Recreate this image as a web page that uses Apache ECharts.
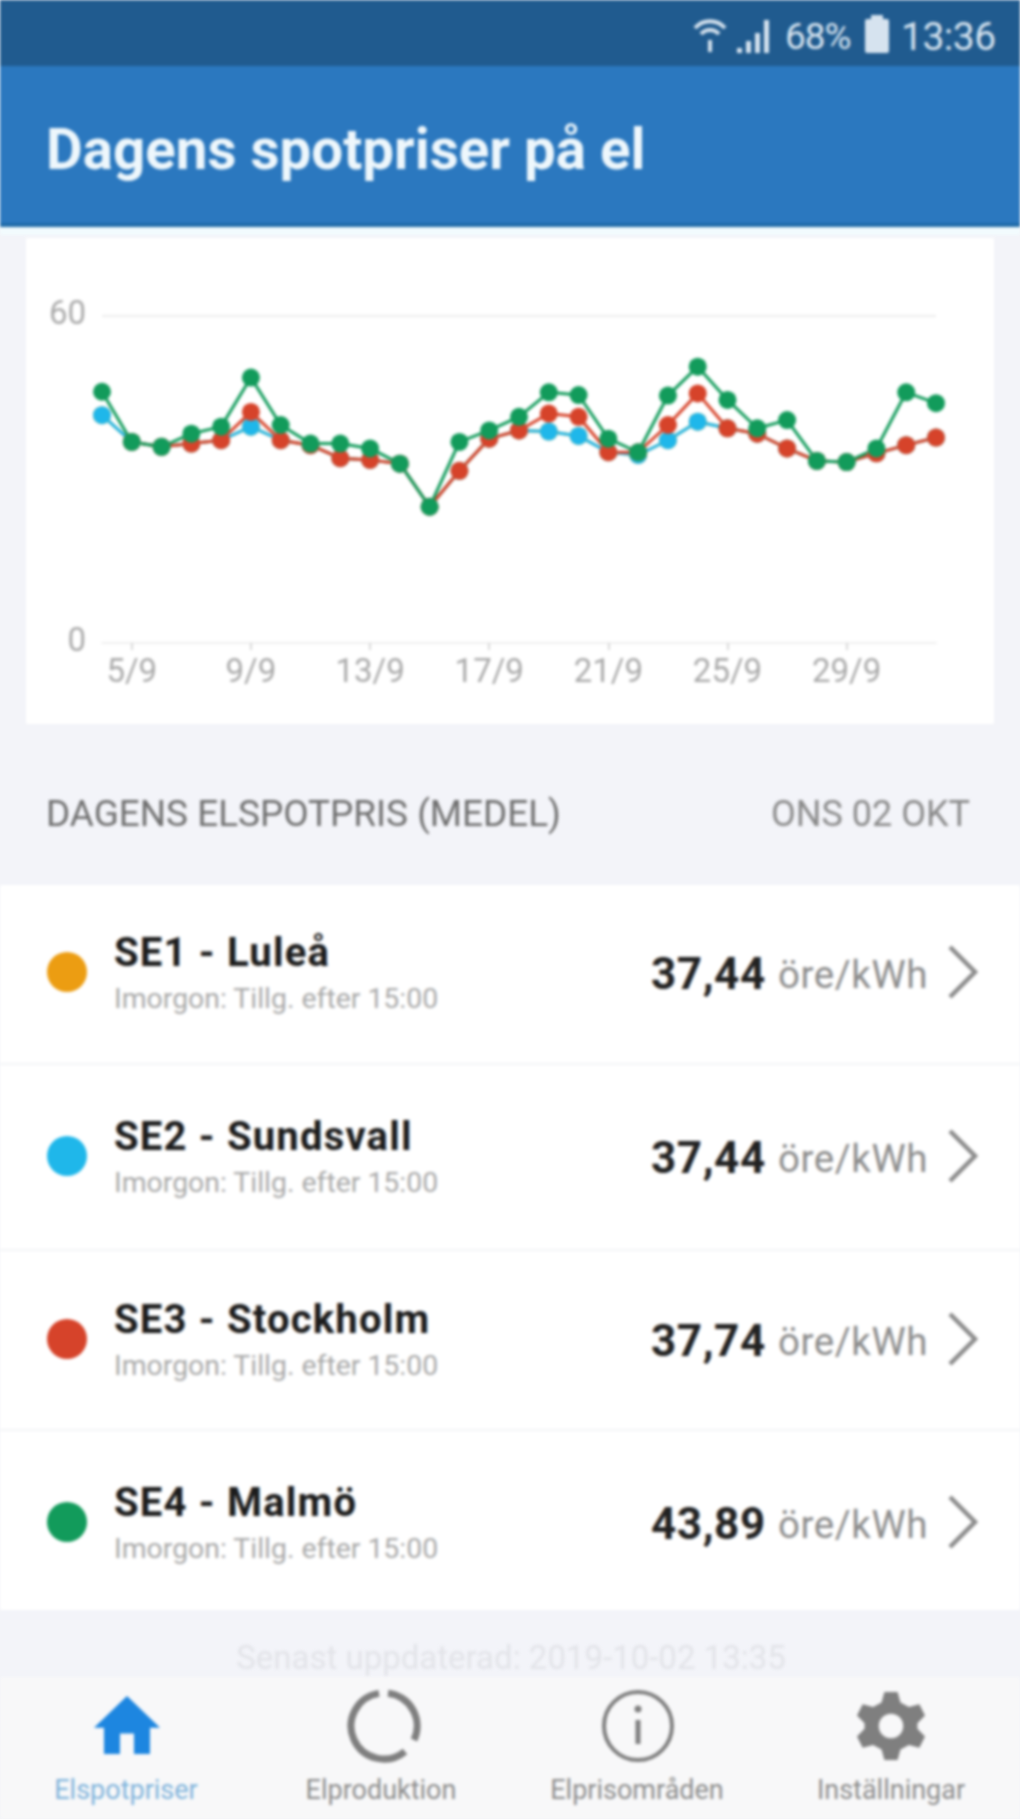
<!DOCTYPE html>
<html>
<head>
<meta charset="utf-8">
<title>Dagens spotpriser på el</title>
<script src="https://cdn.jsdelivr.net/npm/echarts@6/dist/echarts.min.js"></script>
<style>
html,body{margin:0;padding:0;width:1020px;height:1819px;overflow:hidden;background:#f3f4f9;font-family:Roboto,sans-serif}
#app{position:relative;width:1020px;height:1819px;filter:blur(1.4px);overflow:hidden}
#app div{position:absolute;white-space:nowrap}
#app svg{position:absolute}
.name{left:114px;font-size:40px;font-weight:700;color:#1c1c1c;line-height:44px;letter-spacing:1.2px}
.sub{left:114px;font-size:28.4px;color:#a9a9a9;line-height:30px}
.val{left:651px;font-size:44px;font-weight:700;color:#222;line-height:48px;letter-spacing:.6px}
.unit{left:778px;font-size:38.5px;color:#8c8c8c;line-height:40px;letter-spacing:.6px}
.tab{font-size:27px;line-height:30px;color:#8d8d8d;transform:translateX(-50%)}
</style>
</head>
<body>
<div id="app">
  <div style="left:0;top:0;width:1020px;height:66px;background:#205b8f"></div>
  <div style="left:0;top:66px;width:1020px;height:157px;background:#2b78bf"></div>
  <div style="left:0;top:223px;width:1020px;height:4px;background:#1f6ba8"></div>
  <div style="left:0;top:227px;width:1020px;height:8px;background:#f2fbfe"></div>
  <svg style="left:692px;top:16px" width="36" height="38" viewBox="0 0 36 38" fill="none" stroke="#d6e3ef" stroke-width="4"><path d="M3 12a20 20 0 0 1 30 0M9 18a12 12 0 0 1 18 0M18 24v12"/></svg>
  <svg style="left:737px;top:18px" width="38" height="36" viewBox="0 0 38 36" fill="#d6e3ef"><rect x="0" y="30" width="5" height="5"/><rect x="9" y="23" width="5" height="12"/><rect x="18" y="15" width="5" height="20"/><rect x="27" y="2" width="5" height="33"/></svg>
  <div style="left:785px;top:15px;font-size:37px;line-height:44px;color:#d6e3ef;letter-spacing:-1px">68%</div>
  <svg style="left:864px;top:15px" width="26" height="38" viewBox="0 0 26 38" fill="#d6e3ef"><rect x="7" y="0" width="12" height="5"/><rect x="1" y="4" width="24" height="34" rx="2"/></svg>
  <div style="left:901px;top:15px;font-size:39px;line-height:44px;color:#d6e3ef;letter-spacing:-.5px">13:36</div>
  <div style="left:46px;top:118px;font-size:56.5px;font-weight:700;line-height:64px;color:#eef7fc">Dagens spotpriser på el</div>

  <div style="left:26px;top:238px;width:968px;height:486px;background:#fff"></div>
  <div id="chart" style="left:26px;top:238px;width:968px;height:486px"></div>

  <div style="left:46px;top:795px;font-size:36.9px;line-height:38px;color:#6f6f6f">DAGENS ELSPOTPRIS (MEDEL)</div>
  <div style="right:50px;top:795px;font-size:36px;line-height:38px;color:#8a8a8a">ONS 02 OKT</div>

  <div id="list" style="left:0;top:885px;width:1020px;height:725px;background:#fff"></div>
  <div style="left:0;top:1063px;width:1020px;height:2px;background:#f3f4f7"></div>
  <div style="left:0;top:1249px;width:1020px;height:2px;background:#f3f4f7"></div>
  <div style="left:0;top:1429px;width:1020px;height:2px;background:#f3f4f7"></div>
  <div id="rows"></div>

  <div style="left:511px;top:1638px;transform:translateX(-50%);font-size:33px;line-height:40px;color:#e2e3e8">Senast uppdaterad: 2019-10-02 13:35</div>
  <div style="left:0;top:1677px;width:1020px;height:142px;background:#f8f8f9"></div>
  <svg style="left:92px;top:1694px" width="70" height="62" viewBox="0 0 70 66" fill="#1d86e0" preserveAspectRatio="none"><path d="M35 2 L68 36 H58 V64 H42 V42 H28 V64 H12 V36 H2 Z"/></svg>
  <svg style="left:346px;top:1688px" width="76" height="76" viewBox="0 0 76 76" fill="none" stroke="#7f7f7f" stroke-width="7"><path d="M42 5.2A33 33 0 0 1 68 52M59 63.5A33 33 0 1 1 33 5.4"/></svg>
  <svg style="left:600px;top:1688px" width="76" height="76" viewBox="0 0 76 76" fill="none" stroke="#7f7f7f" stroke-width="4"><circle cx="38" cy="38" r="34"/><path d="M38 32v24" stroke-width="5"/><circle cx="38" cy="21" r="3.5" fill="#7f7f7f" stroke="none"/></svg>
  <svg style="left:857px;top:1690px" width="68" height="72" viewBox="0 0 72 76"><path fill="#7f7f7f" fill-rule="evenodd" d="M29 2h14l3 11 9 5 11-3 6 12-8 8v6l8 8-6 12-11-3-9 5-3 11H29l-3-11-9-5-11 3-6-12 8-8v-6l-8-8 6-12 11 3 9-5z M36 25a13 13 0 1 0 0 26a13 13 0 1 0 0-26z"/></svg>
  <div class="tab" style="left:126px;top:1775px;color:#7fb3db">Elspotpriser</div>
  <div class="tab" style="left:381px;top:1775px">Elproduktion</div>
  <div class="tab" style="left:637px;top:1775px">Elprisområden</div>
  <div class="tab" style="left:891px;top:1775px">Inställningar</div>
</div>
<script>
var days = ['4/9','5/9','6/9','7/9','8/9','9/9','10/9','11/9','12/9','13/9','14/9','15/9','16/9','17/9','18/9','19/9','20/9','21/9','22/9','23/9','24/9','25/9','26/9','27/9','28/9','29/9','30/9','1/10','2/10'];
var se1 = [41.8,36.9,36,36.6,37.2,39.7,37.2,36.3,33.9,33.6,32.9,25,31.6,37.5,39,38.8,38,35,34.5,37.2,40.6,39.4,38.4,35.7,33.4,33.2,34.8,36.3,37.7];
var se2 = [41.8,36.9,36,36.6,37.2,39.7,37.2,36.3,33.9,33.6,32.9,25,31.6,37.5,39,38.8,38,35,34.5,37.2,40.6,39.4,38.4,35.7,33.4,33.2,34.8,36.3,37.7];
// first day of SE3 can't be seen in the picture
var se3 = [null,36.9,36,36.6,37.2,42.4,37.2,36.3,33.9,33.6,32.9,25,31.6,37.5,39,42.1,41.5,35,35,40,45.8,39.4,38.4,35.7,33.4,33.2,34.8,36.3,37.7];
var se4 = [46.1,36.9,36,38.4,39.7,48.7,40,36.6,36.6,35.7,32.9,25,36.9,39,41.5,46,45.5,37.5,35,45.4,50.7,44.6,39.4,40.9,33.4,33.2,35.7,46,44];
var yTicks = [0, 60];
var areaNames = ['SE1 - Luleå','SE2 - Sundsvall','SE3 - Stockholm','SE4 - Malmö'];
var areaPrices = ['37,44','37,44','37,74','43,89'];
var areaColors = ['#ec9d12','#1fb7ea','#d6432a','#129b5b'];
var rowCenters = [972,1156,1339,1522];

// list rows
var rowsHtml = '';
areaNames.forEach(function(name,i){
    var c = rowCenters[i];
    rowsHtml += '<div style="left:47px;top:'+(c-20)+'px;width:40px;height:40px;border-radius:50%;background:'+areaColors[i]+'"></div>'
        + '<div class="name" style="top:'+(c-41)+'px">'+name+'</div>'
        + '<div class="sub" style="top:'+(c+12)+'px">Imorgon: Tillg. efter 15:00</div>'
        + '<div class="val" style="top:'+(c-22)+'px">'+areaPrices[i]+'</div>'
        + '<div class="unit" style="top:'+(c-17)+'px">öre/kWh</div>'
        + '<svg style="left:944px;top:'+(c-27)+'px" width="36" height="54" viewBox="0 0 36 54" fill="none" stroke="#8c8c8c" stroke-width="4.5"><path d="M6 2 L31 27 L6 52"/></svg>';
});
document.getElementById('rows').innerHTML = rowsHtml;

function lineSeries(name,data,color){
    return {
        name:name,
        type:'line',
        data:data,
        symbol:'circle',
        symbolSize:18,
        showSymbol:true,
        animation:false,
        lineStyle:{color:color,width:3},
        itemStyle:{color:color}
    };
}

// every fourth day gets a label, starting from 5/9; the last one is 29/9
function showDay(index){
    return (index-1)%4===0 && index<26;
}

var myChart = echarts.init(document.getElementById('chart'));
var option = {
    animation:false,
    grid:{left:76,right:58,top:78,height:327},
    xAxis:{
        type:'category',
        boundaryGap:false,
        data:days,
        axisLine:{show:true,lineStyle:{color:'#efefef',width:2}},
        axisTick:{show:true,length:7,interval:showDay,lineStyle:{color:'#d8d8d8',width:2}},
        axisLabel:{interval:showDay,fontFamily:'Roboto',fontSize:33,color:'#a9a9a9',margin:14}
    },
    yAxis:{
        type:'value',
        min:yTicks[0],
        max:yTicks[1],
        interval:yTicks[1],
        axisLine:{show:false},
        axisTick:{show:false},
        splitLine:{lineStyle:{color:'#ececec',width:2}},
        axisLabel:{fontFamily:'Roboto',fontSize:33,color:'#a9a9a9',margin:16}
    },
    series:[
        lineSeries('SE1',se1,areaColors[0]),
        lineSeries('SE2',se2,areaColors[1]),
        lineSeries('SE3',se3,areaColors[2]),
        lineSeries('SE4',se4,areaColors[3])
    ]
};
myChart.setOption(option);
</script>
</body>
</html>
